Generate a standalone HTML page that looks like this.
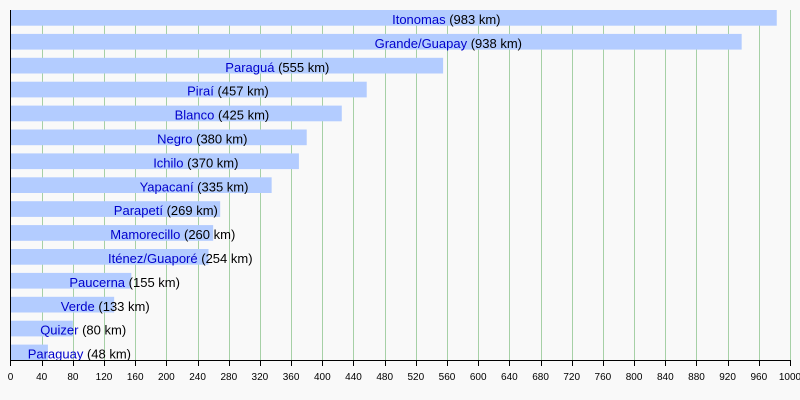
<!DOCTYPE html>
<html><head><meta charset="utf-8"><style>
html,body{margin:0;padding:0;background:#f9f9f9;}
svg{display:block;}
text{font-family:"Liberation Sans",Arial,sans-serif;}
</style></head><body>
<svg width="800" height="400" viewBox="0 0 800 400" xmlns="http://www.w3.org/2000/svg">
<rect width="800" height="400" fill="#f9f9f9"/>
<g stroke="#a6d0a6" stroke-width="1">
<line x1="42.5" y1="10" x2="42.5" y2="360"/>
<line x1="73.5" y1="10" x2="73.5" y2="360"/>
<line x1="104.5" y1="10" x2="104.5" y2="360"/>
<line x1="135.5" y1="10" x2="135.5" y2="360"/>
<line x1="166.5" y1="10" x2="166.5" y2="360"/>
<line x1="198.5" y1="10" x2="198.5" y2="360"/>
<line x1="229.5" y1="10" x2="229.5" y2="360"/>
<line x1="260.5" y1="10" x2="260.5" y2="360"/>
<line x1="291.5" y1="10" x2="291.5" y2="360"/>
<line x1="322.5" y1="10" x2="322.5" y2="360"/>
<line x1="353.5" y1="10" x2="353.5" y2="360"/>
<line x1="385.5" y1="10" x2="385.5" y2="360"/>
<line x1="416.5" y1="10" x2="416.5" y2="360"/>
<line x1="447.5" y1="10" x2="447.5" y2="360"/>
<line x1="478.5" y1="10" x2="478.5" y2="360"/>
<line x1="509.5" y1="10" x2="509.5" y2="360"/>
<line x1="541.5" y1="10" x2="541.5" y2="360"/>
<line x1="572.5" y1="10" x2="572.5" y2="360"/>
<line x1="603.5" y1="10" x2="603.5" y2="360"/>
<line x1="634.5" y1="10" x2="634.5" y2="360"/>
<line x1="665.5" y1="10" x2="665.5" y2="360"/>
<line x1="696.5" y1="10" x2="696.5" y2="360"/>
<line x1="728.5" y1="10" x2="728.5" y2="360"/>
<line x1="759.5" y1="10" x2="759.5" y2="360"/>
<line x1="790.5" y1="10" x2="790.5" y2="360"/>
</g>
<g fill="#b3ccff">
<rect x="11" y="10" width="765.75" height="15.7"/>
<rect x="11" y="33.9" width="730.67" height="15.7"/>
<rect x="11" y="57.8" width="432.12" height="15.7"/>
<rect x="11" y="81.7" width="355.73" height="15.7"/>
<rect x="11" y="105.6" width="330.79" height="15.7"/>
<rect x="11" y="129.5" width="295.71" height="15.7"/>
<rect x="11" y="153.4" width="287.92" height="15.7"/>
<rect x="11" y="177.3" width="260.63" height="15.7"/>
<rect x="11" y="201.2" width="209.19" height="15.7"/>
<rect x="11" y="225.1" width="202.17" height="15.7"/>
<rect x="11" y="249" width="197.49" height="15.7"/>
<rect x="11" y="272.9" width="120.32" height="15.7"/>
<rect x="11" y="296.8" width="103.17" height="15.7"/>
<rect x="11" y="320.7" width="61.86" height="15.7"/>
<rect x="11" y="344.6" width="36.92" height="15.7"/>
</g>
<g font-size="13" fill="#000">
<text x="392.1" y="24"><tspan fill="#0000cc">Itonomas</tspan> (983 km)</text>
<text x="374.6" y="47.9"><tspan fill="#0000cc">Grande/Guapay</tspan> (938 km)</text>
<text x="225.3" y="71.8"><tspan fill="#0000cc">Paraguá</tspan> (555 km)</text>
<text x="187.1" y="95.7"><tspan fill="#0000cc">Piraí</tspan> (457 km)</text>
<text x="174.6" y="119.6"><tspan fill="#0000cc">Blanco</tspan> (425 km)</text>
<text x="157.1" y="143.5"><tspan fill="#0000cc">Negro</tspan> (380 km)</text>
<text x="153.2" y="167.4"><tspan fill="#0000cc">Ichilo</tspan> (370 km)</text>
<text x="139.6" y="191.3"><tspan fill="#0000cc">Yapacaní</tspan> (335 km)</text>
<text x="113.8" y="215.2"><tspan fill="#0000cc">Parapetí</tspan> (269 km)</text>
<text x="110.3" y="239.1"><tspan fill="#0000cc">Mamorecillo</tspan> (260 km)</text>
<text x="108.0" y="263"><tspan fill="#0000cc">Iténez/Guaporé</tspan> (254 km)</text>
<text x="69.4" y="286.9"><tspan fill="#0000cc">Paucerna</tspan> (155 km)</text>
<text x="60.8" y="310.8"><tspan fill="#0000cc">Verde</tspan> (133 km)</text>
<text x="40.2" y="334.7"><tspan fill="#0000cc">Quizer</tspan> (80 km)</text>
<text x="27.7" y="358.6"><tspan fill="#0000cc">Paraguay</tspan> (48 km)</text>
</g>
<line x1="10.5" y1="10" x2="10.5" y2="360.5" stroke="#000" stroke-width="1"/>
<line x1="10" y1="360.5" x2="790.5" y2="360.5" stroke="#000" stroke-width="1"/>
<g stroke="#000" stroke-width="1">
<line x1="10.5" y1="360" x2="10.5" y2="366"/>
<line x1="42.5" y1="360" x2="42.5" y2="366"/>
<line x1="73.5" y1="360" x2="73.5" y2="366"/>
<line x1="104.5" y1="360" x2="104.5" y2="366"/>
<line x1="135.5" y1="360" x2="135.5" y2="366"/>
<line x1="166.5" y1="360" x2="166.5" y2="366"/>
<line x1="198.5" y1="360" x2="198.5" y2="366"/>
<line x1="229.5" y1="360" x2="229.5" y2="366"/>
<line x1="260.5" y1="360" x2="260.5" y2="366"/>
<line x1="291.5" y1="360" x2="291.5" y2="366"/>
<line x1="322.5" y1="360" x2="322.5" y2="366"/>
<line x1="353.5" y1="360" x2="353.5" y2="366"/>
<line x1="385.5" y1="360" x2="385.5" y2="366"/>
<line x1="416.5" y1="360" x2="416.5" y2="366"/>
<line x1="447.5" y1="360" x2="447.5" y2="366"/>
<line x1="478.5" y1="360" x2="478.5" y2="366"/>
<line x1="509.5" y1="360" x2="509.5" y2="366"/>
<line x1="541.5" y1="360" x2="541.5" y2="366"/>
<line x1="572.5" y1="360" x2="572.5" y2="366"/>
<line x1="603.5" y1="360" x2="603.5" y2="366"/>
<line x1="634.5" y1="360" x2="634.5" y2="366"/>
<line x1="665.5" y1="360" x2="665.5" y2="366"/>
<line x1="696.5" y1="360" x2="696.5" y2="366"/>
<line x1="728.5" y1="360" x2="728.5" y2="366"/>
<line x1="759.5" y1="360" x2="759.5" y2="366"/>
<line x1="790.5" y1="360" x2="790.5" y2="366"/>
</g>
<g font-size="10" text-anchor="middle" fill="#000">
<text x="10.5" y="380">0</text>
<text x="41.7" y="380">40</text>
<text x="72.9" y="380">80</text>
<text x="104" y="380">120</text>
<text x="135.2" y="380">160</text>
<text x="166.4" y="380">200</text>
<text x="197.6" y="380">240</text>
<text x="228.8" y="380">280</text>
<text x="259.9" y="380">320</text>
<text x="291.1" y="380">360</text>
<text x="322.3" y="380">400</text>
<text x="353.5" y="380">440</text>
<text x="384.7" y="380">480</text>
<text x="415.8" y="380">520</text>
<text x="447" y="380">560</text>
<text x="478.2" y="380">600</text>
<text x="509.4" y="380">640</text>
<text x="540.6" y="380">680</text>
<text x="571.7" y="380">720</text>
<text x="602.9" y="380">760</text>
<text x="634.1" y="380">800</text>
<text x="665.3" y="380">840</text>
<text x="696.5" y="380">880</text>
<text x="727.6" y="380">920</text>
<text x="758.8" y="380">960</text>
<text x="790" y="380">1000</text>
</g>
</svg>
</body></html>
